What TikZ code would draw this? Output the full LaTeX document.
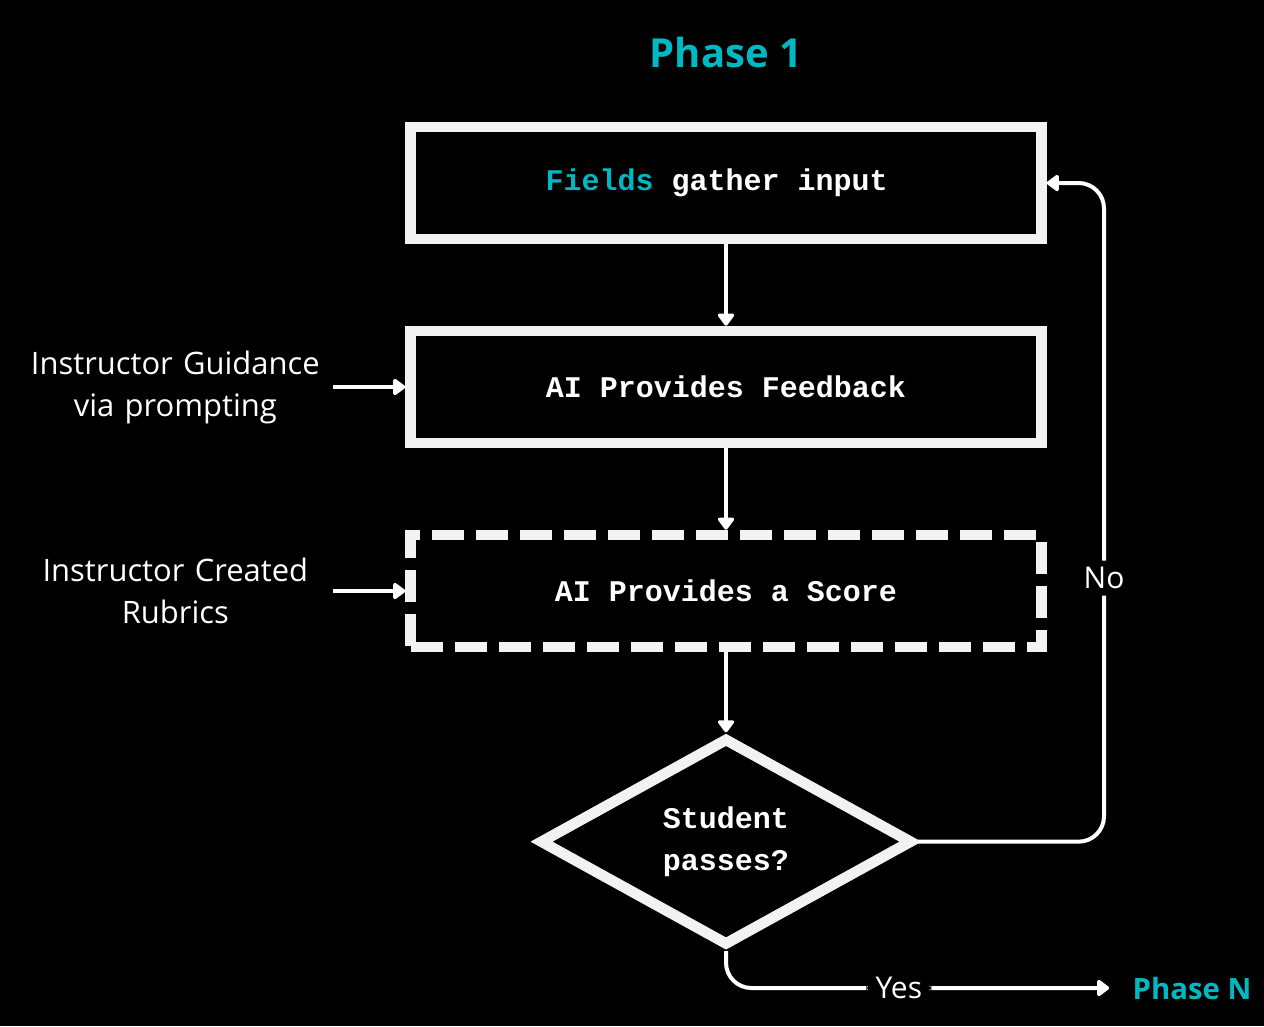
\documentclass[tikz,border=0pt]{standalone}
\usepackage{fontspec}
\setmainfont{Open Sans}
\setmonofont{Liberation Mono}
\usetikzlibrary{arrows.meta,positioning,shapes.geometric,calc}
\definecolor{phaseteal}{RGB}{0,184,196}
\definecolor{boxgray}{RGB}{242,242,242}

\begin{document}
\begin{tikzpicture}[
      x=0.75pt, y=-0.75pt,
      every node/.style={on grid},
      node distance=153pt,
      stepbox/.style={draw=boxgray,line width=8pt,minimum width=473pt,minimum height=84pt,
        inner sep=0pt,text=white,font=\ttfamily\bfseries\fontsize{22.5}{27}\selectfont},
      scorebox/.style={stepbox,dash pattern=on 24pt off 9pt},
      passdiamond/.style={diamond,draw=boxgray,line width=8pt,minimum width=280pt,minimum height=156pt,
        inner sep=0pt,align=center,text=white,font=\ttfamily\bfseries\fontsize{22.5}{31.5}\selectfont},
      note/.style={text=white,align=center,text width=230pt,inner sep=3pt,
        font=\fontsize{23.2}{31.5}\selectfont},
      phase/.style={text=phaseteal,font=\bfseries\fontsize{30}{34}\selectfont},
      tag/.style={fill=black,text=white,inner xsep=7pt,inner ysep=5pt,font=\fontsize{22.5}{26}\selectfont},
      flow/.style={draw=white,line width=3pt,-{Triangle[length=10pt,width=14pt,round]}}
    ]

    \fill[black] (0,0) rectangle (1264,1026);

    % the steps
    \node[stepbox] (fields) at (726,183) {\hspace*{-14pt}\textcolor{phaseteal}{Fields} gather input};
    \node[stepbox,below=of fields] (feedback) {AI Provides Feedback};
    \node[scorebox,below=of feedback] (score) {AI Provides a Score};
    \node[passdiamond,below=188pt of score] (pass) {Student\\passes?};

    % titles
    \node[phase,above=98pt of fields] (title) {Phase 1};
    \node[phase,font=\bfseries\fontsize{22}{26}\selectfont] (phaseN) at (1192,988) {Phase N};

    % the inputs on the left
    \node[note,left=413pt of feedback] (guide) {Instructor Guidance\\via prompting};
    \node[note,left=413pt of score] (rubric) {Instructor Created\\Rubrics};

    % the arrows
    \draw[flow] (fields) -- (feedback);
    \draw[flow] (feedback) -- (score);
    \draw[flow] (score) -- (pass);
    \draw[flow] (guide.east) -- (feedback.west);
    \draw[flow] (rubric.east) -- (score.west);

    % loop back and exit
    \coordinate (noturn) at (1104,183);
    \draw[flow,rounded corners=19pt] (pass.east) -| node[tag,pos=0.7] {No} (noturn) -- (fields.east);
    \draw[flow,rounded corners=19pt,shorten >=14pt] (pass.south) |- node[tag,pos=0.715] {Yes} (phaseN.west);
    \end{tikzpicture}
\end{document}
